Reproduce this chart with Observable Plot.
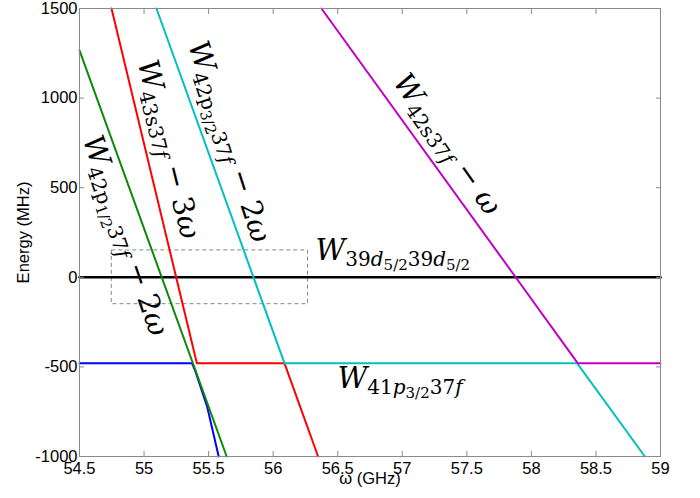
<!DOCTYPE html>
<html>
<head>
<meta charset="utf-8">
<script src="https://cdn.jsdelivr.net/npm/d3@7"></script>
<script src="https://cdn.jsdelivr.net/npm/@observablehq/plot@0.6"></script>
<style>
  html, body { margin: 0; padding: 0; background: white; }
</style>
</head>
<body>
<div id="chart"></div>
<script>
// ---- data ----
const xTicks = [54.5, 55, 55.5, 56, 56.5, 57, 57.5, 58, 58.5, 59];
const yTicks = [-1000, -500, 0, 500, 1000, 1500];

const zeroX = [54.5, 59];
const zeroY = [0, 0];
const blueX = [54.5, 55.372, 55.398, 55.488, 55.578];
const blueY = [-480, -480, -525, -720, -1000];
const greenX = [54.5, 55.64];
const greenY = [1266, -1000];
const redX = [54.748, 55.409, 56.088, 56.348];
const redY = [1500, -480, -480, -1000];
const cyanX = [55.096, 56.088, 58.355, 58.879];
const cyanY = [1500, -480, -480, -1000];
const magentaX = [56.374, 58.36, 59];
const magentaY = [1500, -480, -480];

const boxX = [54.75, 56.27];
const boxY = [-150, 150];

const labelText = [
  "W_{42[s]37f} − ω",
  "W_{43[s]37f} − 3ω",
  "W_{42[p]_{3/2}37f} − 2ω",
  "W_{42[p]_{1/2}37f} − 2ω",
  "W_{39d_{5/2}39d_{5/2}}",
  "W_{41p_{3/2}37f}"
];
const labelX = [57.289, 55.12, 55.592, 54.787, 56.328, 56.498];
const labelY = [713, 702, 741, 216, 94, -615];
const labelAngle = [55, 76, 72, 71, 0, 0];

// ---- build tables ----
function pts(xs, ys, s) { return xs.map((x, i) => ({x, y: ys[i], s})); }
const curves = [
  {xs: blueX, ys: blueY, c: "#0000ff"},
  {xs: greenX, ys: greenY, c: "#0a8a0a"},
  {xs: redX, ys: redY, c: "#ff0000"},
  {xs: cyanX, ys: cyanY, c: "#00c0c0"},
  {xs: magentaX, ys: magentaY, c: "#c000c0"}
];
const labels = labelText.map((t, i) => ({t, x: labelX[i], y: labelY[i], r: labelAngle[i]}));

const marks = [
  Plot.rect([{x1: boxX[0], x2: boxX[1], y1: boxY[0], y2: boxY[1]}],
    {x1: "x1", x2: "x2", y1: "y1", y2: "y2", fill: "none", stroke: "#888", strokeWidth: 1, strokeDasharray: "4,3"}),
  Plot.line(pts(zeroX, zeroY, "z"), {x: "x", y: "y", stroke: "black", strokeWidth: 2.5}),
  ...curves.map((c, k) => Plot.line(pts(c.xs, c.ys, k), {x: "x", y: "y", stroke: c.c, strokeWidth: 2})),
  Plot.frame({stroke: "#8a8a8a", strokeWidth: 1}),
  Plot.axisX(xTicks, {anchor: "bottom", tickSize: 0, tickPadding: 6, fontSize: 16.5, label: null, tickFormat: d => String(d)}),
  Plot.axisX(xTicks, {anchor: "bottom", tickSize: -5, stroke: "#8a8a8a", label: null, tickFormat: () => ""}),
  Plot.axisX(xTicks, {anchor: "top", tickSize: -5, stroke: "#8a8a8a", label: null, tickFormat: () => ""}),
  Plot.axisY(yTicks, {anchor: "left", tickSize: 0, tickPadding: 2, fontSize: 16.5, label: null, tickFormat: d => String(d)}),
  Plot.axisY(yTicks, {anchor: "left", tickSize: -5, stroke: "#8a8a8a", label: null, tickFormat: () => ""}),
  Plot.axisY(yTicks, {anchor: "right", tickSize: -5, stroke: "#8a8a8a", label: null, tickFormat: () => ""}),
  Plot.text(["Energy (MHz)"], {frameAnchor: "left", textAnchor: "middle", dx: -55.5, rotate: -90, fontSize: 16.5, fill: "black"}),
  Plot.text(["ω (GHz)"], {frameAnchor: "bottom", textAnchor: "middle", dy: 27, fontSize: 16.5, fill: "black"}),
  Plot.text(labels.filter(d => d.r !== 0), {x: "x", y: "y", text: "t", rotate: "r", textAnchor: "middle", lineAnchor: "bottom",
    fontSize: 29, fontFamily: "DejaVu Serif", fill: "black"}),
  Plot.text(labels.filter(d => d.r === 0), {x: "x", y: "y", text: "t", textAnchor: "start", lineAnchor: "bottom",
    fontSize: 29, fontFamily: "DejaVu Serif", fill: "black"})
];

const chart = Plot.plot({
  width: 700,
  height: 498,
  marginLeft: 79,
  marginRight: 40,
  marginTop: 8,
  marginBottom: 42,
  x: {domain: [54.5, 59], label: null, axis: null},
  y: {domain: [-1000, 1500], label: null, axis: null},
  style: {fontFamily: "'Liberation Sans', Arial, sans-serif", fontSize: "16px", background: "white", color: "black"},
  marks
});
document.getElementById("chart").appendChild(chart);

// ---- math label formatting: one text element per run (subscript levels) ----
const SVGNS = "http://www.w3.org/2000/svg";
const sizes = [29, 20, 15];
const shifts = [0, 6, 10];
function parse(s) {
  const runs = [];
  let level = 0, roman = false;
  const stack = [];
  for (let i = 0; i < s.length; i++) {
    const c = s[i];
    if (c === "_" && s[i + 1] === "{") { stack.push(level); level++; i++; continue; }
    if (c === "}") { level = stack.pop(); continue; }
    if (c === "[") { roman = true; continue; }
    if (c === "]") { roman = false; continue; }
    const italic = /[A-Za-zω]/.test(c) && !roman;
    const last = runs[runs.length - 1];
    if (last && last.level === level && last.italic === italic) last.t += c;
    else runs.push({t: c, level, italic});
  }
  return runs;
}
const targets = [];
d3.select(chart).selectAll("text").each(function () {
  if (labelText.includes(this.textContent)) targets.push(this);
});
for (const node of targets) {
  const s = node.textContent;
  const lab = labels.find(d => d.t === s);
  const outer = document.createElementNS(SVGNS, "g");
  const tr = node.getAttribute("transform");
  if (tr) outer.setAttribute("transform", tr);
  const inner = document.createElementNS(SVGNS, "g");
  outer.appendChild(inner);
  node.parentNode.insertBefore(outer, node);
  node.remove();
  let xpos = 0;
  for (const r of parse(s)) {
    const t = document.createElementNS(SVGNS, "text");
    t.textContent = r.t;
    t.setAttribute("font-size", sizes[r.level]);
    t.setAttribute("font-family", "DejaVu Serif");
    t.setAttribute("font-style", r.italic ? "italic" : "normal");
    t.setAttribute("text-anchor", "start");
    t.setAttribute("fill", "black");
    t.style.whiteSpace = "pre";
    t.setAttribute("x", xpos);
    t.setAttribute("y", shifts[r.level]);
    inner.appendChild(t);
    xpos += t.getComputedTextLength();
  }
  if (lab && lab.r !== 0) inner.setAttribute("transform", `translate(${-xpos / 2},0)`);
}
</script>
</body>
</html>
